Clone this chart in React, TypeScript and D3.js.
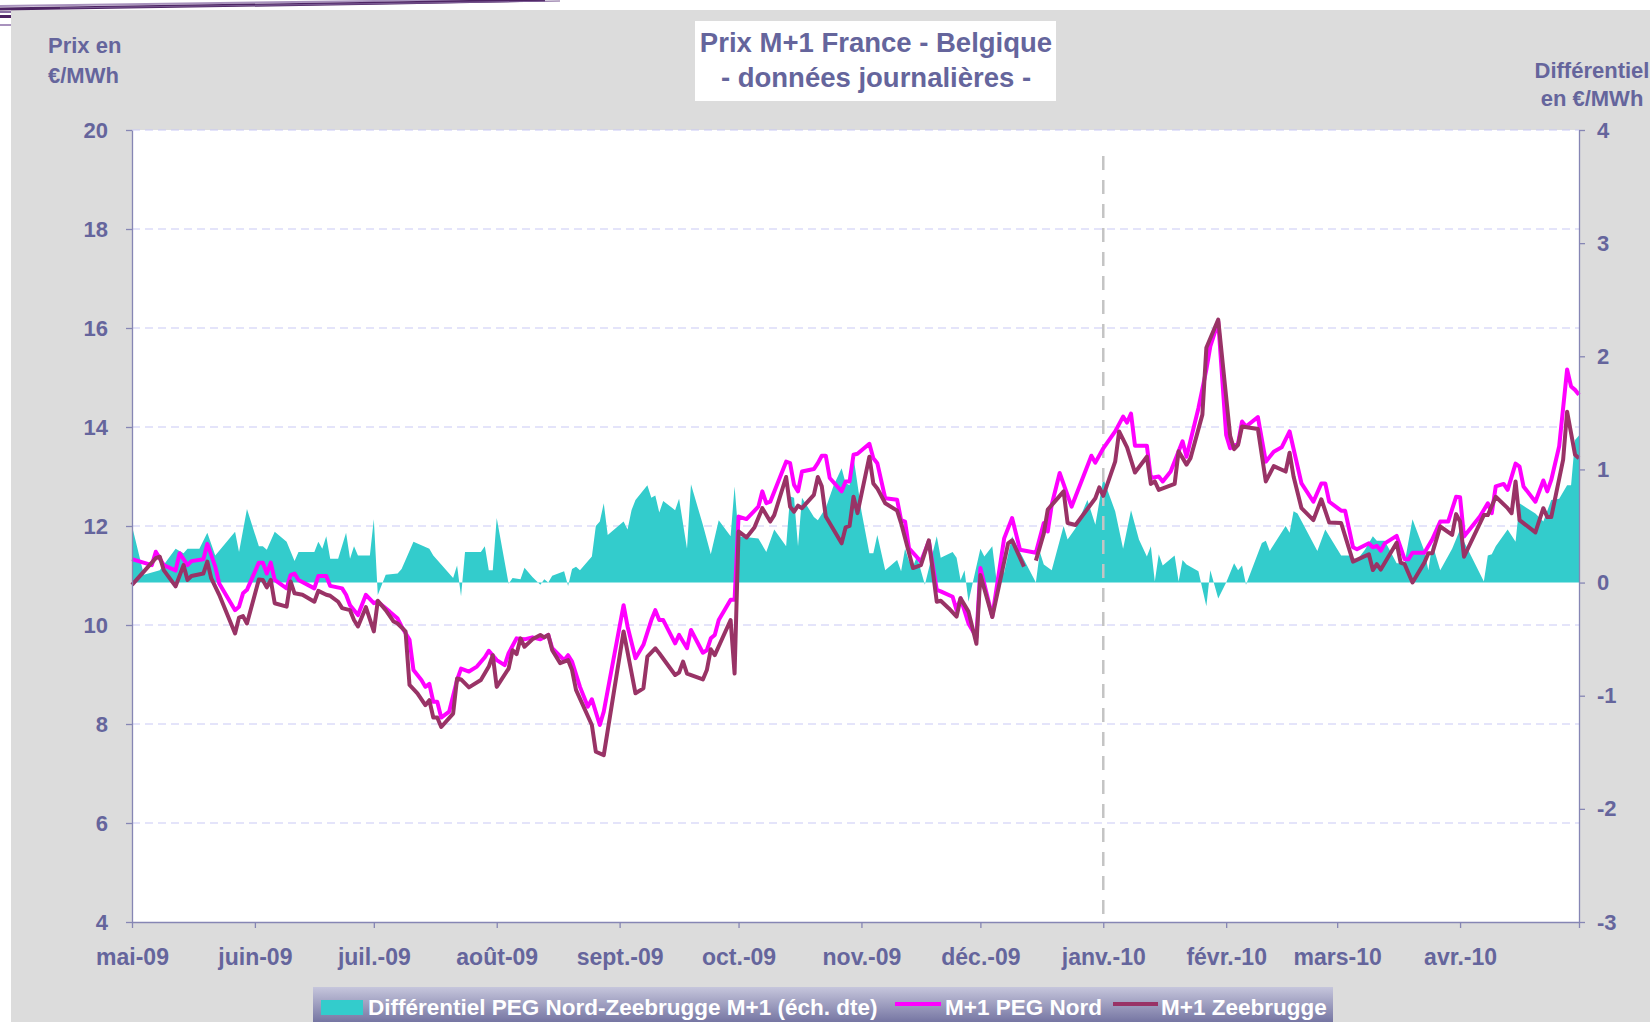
import React, { useEffect, useRef } from "react";
import * as d3 from "d3";

const START = new Date(2009, 4, 1);
const END = new Date(2010, 4, 1);

const monthLabels = [
  "mai-09", "juin-09", "juil.-09", "août-09", "sept.-09", "oct.-09",
  "nov.-09", "déc.-09", "janv.-10", "févr.-10", "mars-10", "avr.-10",
];
const leftTicks = [4, 6, 8, 10, 12, 14, 16, 18, 20];
const rightTicks = [-3, -2, -1, 0, 1, 2, 3, 4];

// [jours depuis le 1er mai 2009, €/MWh]
const pegNord: [number, number][] = [
  [0, 11.33], [5, 11.21], [6, 11.48], [8, 11.21], [11, 11.1], [12, 11.45], [14, 11.21], [15, 11.29],
  [18, 11.33], [19, 11.64], [21, 11.18], [22, 10.84], [26, 10.3], [27, 10.37], [28, 10.64], [29, 10.71],
  [32, 11.26], [33, 11.26], [34, 11.04], [35, 11.26], [36, 10.91], [39, 10.74], [40, 11.01], [41, 11.04],
  [42, 10.91], [46, 10.74], [47, 10.99], [49, 10.99], [50, 10.79], [53, 10.74], [54, 10.61], [55, 10.4],
  [57, 10.2], [59, 10.61], [61, 10.44], [62, 10.47], [65, 10.27], [67, 10.13], [68, 9.97], [70, 9.7],
  [71, 9.09], [73, 8.89], [74, 8.75], [75, 8.81], [76, 8.45], [77, 8.45], [78, 8.13], [80, 8.25],
  [82, 8.89], [83, 9.12], [85, 9.06], [87, 9.16], [89, 9.35], [90, 9.48], [92, 9.29], [94, 9.19],
  [95, 9.43], [97, 9.73], [99, 9.71], [101, 9.75], [103, 9.71], [105, 9.8], [106, 9.53], [109, 9.29],
  [110, 9.39], [111, 9.26], [113, 8.75], [115, 8.35], [116, 8.5], [118, 7.98], [119, 8.25], [124, 10.4],
  [125, 9.97], [127, 9.33], [129, 9.6], [131, 10.1], [132, 10.3], [133, 10.1], [134, 10.1], [137, 9.63],
  [138, 9.8], [140, 9.53], [141, 9.9], [144, 9.44], [145, 9.49], [146, 9.73], [147, 9.8], [148, 10.1],
  [151, 10.51], [152, 10.51], [153, 12.19], [155, 12.14], [158, 12.39], [159, 12.7], [160, 12.46], [161, 12.49],
  [165, 13.3], [166, 13.27], [167, 12.83], [168, 12.7], [169, 13.1], [172, 13.15], [173, 13.27], [174, 13.42],
  [175, 13.42], [176, 12.97], [179, 12.7], [180, 12.9], [181, 12.9], [182, 13.44], [183, 13.46], [186, 13.66],
  [187, 13.37], [188, 13.27], [190, 12.56], [193, 12.53], [194, 12.12], [195, 12.09], [196, 11.55], [199, 11.28],
  [201, 11.69], [203, 10.71], [204, 10.68], [207, 10.57], [208, 10.3], [209, 10.54], [211, 10.03], [213, 9.75],
  [214, 11.15], [217, 10.17], [220, 11.75], [222, 12.16], [224, 11.52], [228, 11.46], [230, 12.06], [231, 11.89],
  [232, 12.43], [234, 13.07], [237, 12.39], [242, 13.42], [243, 13.28], [245, 13.57], [248, 13.91], [250, 14.21],
  [251, 14.09], [252, 14.27], [253, 13.62], [256, 13.62], [257, 12.97], [259, 13.0], [260, 12.9], [262, 13.1],
  [265, 13.71], [266, 13.4], [269, 14.38], [271, 15.16], [272, 15.63], [274, 16.13], [276, 13.84], [277, 13.57],
  [279, 13.67], [280, 14.11], [281, 14.01], [284, 14.2], [286, 13.3], [288, 13.5], [290, 13.59], [292, 13.91],
  [295, 12.86], [298, 12.49], [300, 12.86], [301, 12.86], [302, 12.49], [305, 12.31], [306, 12.31], [308, 11.57],
  [309, 11.53], [312, 11.65], [313, 11.57], [314, 11.6], [315, 11.5], [316, 11.65], [319, 11.8], [321, 11.33],
  [322, 11.33], [323, 11.46], [326, 11.46], [328, 11.73], [330, 12.09], [332, 12.09], [334, 12.59], [335, 12.58],
  [336, 11.79], [340, 12.19], [342, 12.46], [343, 12.26], [344, 12.8], [346, 12.85], [347, 12.73], [349, 13.26],
  [350, 13.2], [351, 12.8], [354, 12.49], [356, 12.92], [357, 12.7], [358, 12.93], [360, 13.61], [362, 15.16],
  [363, 14.82], [364, 14.75], [365, 14.65],
];

const zeebrugge: [number, number | null][] = [
  [0, 10.81], [6, 11.35], [7, 11.38], [8, 11.11], [11, 10.78], [13, 11.21], [14, 10.91], [15, 10.99],
  [18, 11.04], [19, 11.28], [20, 10.94], [22, 10.61], [26, 9.83], [27, 10.15], [28, 10.18], [29, 10.03],
  [32, 10.92], [33, 10.91], [34, 10.76], [35, 10.91], [36, 10.44], [39, 10.37], [40, 10.88], [41, 10.64],
  [43, 10.61], [46, 10.47], [47, 10.69], [49, 10.61], [50, 10.59], [52, 10.47], [53, 10.34], [55, 10.3],
  [56, 10.1], [57, 9.97], [59, 10.36], [61, 9.87], [62, 10.49], [64, 10.3], [66, 10.07], [67, 10.03],
  [69, 9.87], [70, 8.79], [72, 8.62], [74, 8.38], [75, 8.48], [76, 8.13], [77, 8.13], [78, 7.94],
  [81, 8.21], [82, 8.92], [83, 8.9], [85, 8.74], [88, 8.89], [90, 9.16], [91, 9.39], [92, 8.75],
  [95, 9.12], [96, 9.49], [97, 9.41], [98, 9.73], [99, 9.56], [101, 9.71], [103, 9.8], [104, 9.75],
  [105, 9.8], [106, 9.49], [108, 9.23], [110, 9.29], [111, 9.09], [112, 8.69], [116, 7.98], [117, 7.44],
  [119, 7.37], [124, 9.87], [127, 8.62], [129, 8.72], [130, 9.36], [132, 9.53], [133, 9.43], [137, 8.99],
  [138, 9.04], [139, 9.26], [140, 9.02], [144, 8.9], [145, 9.09], [146, 9.51], [147, 9.39], [151, 10.1],
  [152, 9.02], [153, 11.89], [155, 11.77], [157, 11.97], [159, 12.36], [161, 12.09], [162, 12.22], [165, 12.99],
  [166, 12.39], [167, 12.29], [168, 12.41], [169, 12.36], [172, 12.63], [173, 12.99], [174, 12.8], [175, 12.19],
  [179, 11.65], [180, 11.97], [181, 12.0], [182, 12.59], [183, 12.26], [186, 13.4], [187, 12.86], [188, 12.76],
  [190, 12.46], [193, 12.31], [194, 12.06], [197, 11.15], [199, 11.21], [201, 11.71], [203, 10.47], [204, 10.49],
  [206, 10.34], [208, 10.17], [209, 10.54], [211, 10.27], [213, 9.62], [214, 11.01], [217, 10.16], [221, 11.65],
  [222, 11.71], [225, 11.18], [227, null], [228, 11.3], [230, 11.85], [231, 12.33], [235, 12.7], [236, 12.06],
  [238, 12.02], [243, 12.56], [244, 12.78], [245, 12.61], [248, 13.3], [249, 13.91], [251, 13.59], [253, 13.08],
  [256, 13.4], [257, 12.85], [258, 12.9], [259, 12.73], [263, 12.85], [264, 13.51], [266, 13.24], [267, 13.37],
  [270, 14.25], [271, 15.6], [274, 16.17], [277, 13.82], [278, 13.55], [279, 13.64], [280, 14.01], [284, 13.96],
  [286, 12.9], [288, 13.21], [291, 13.1], [292, 13.48], [293, 13.0], [295, 12.36], [298, 12.12], [300, 12.54],
  [302, 12.07], [305, 12.06], [308, 11.28], [312, 11.43], [313, 11.11], [314, 11.23], [315, 11.12], [319, 11.66],
  [320, 11.26], [321, 11.23], [323, 10.86], [326, 11.26], [327, 11.45], [328, 11.45], [330, 11.99], [333, 11.82],
  [334, 12.24], [335, 12.09], [336, 11.38], [341, 12.22], [342, 12.22], [344, 12.59], [347, 12.36], [348, 12.26],
  [349, 12.9], [350, 12.12], [354, 11.87], [356, 12.36], [357, 12.18], [358, 12.18], [361, 13.34], [362, 14.31],
  [364, 13.44], [365, 13.37],
];

// différentiel PEG Nord - Zeebrugge, échelle de droite
const differentiel: [number, number][] = [
  [0, 0.5], [3, 0.07], [7, 0.11], [11, 0.3], [13, 0.26], [14, 0.3], [17, 0.3], [19, 0.44],
  [21, 0.24], [26, 0.45], [27, 0.27], [29, 0.65], [32, 0.32], [33, 0.32], [34, 0.29], [36, 0.45],
  [39, 0.36], [41, 0.19], [42, 0.27], [46, 0.27], [47, 0.36], [48, 0.3], [49, 0.41], [50, 0.21],
  [52, 0.21], [54, 0.44], [55, 0.21], [56, 0.32], [57, 0.24], [60, 0.24], [61, 0.56], [62, -0.11],
  [64, 0.07], [67, 0.08], [68, 0.12], [69, 0.2], [71, 0.36], [75, 0.3], [76, 0.24], [81, 0.04],
  [82, 0.15], [83, -0.12], [84, 0.27], [88, 0.27], [89, 0.32], [90, 0.11], [91, 0.11], [92, 0.57],
  [95, -0.01], [96, 0.04], [98, 0.03], [99, 0.13], [101, 0.05], [103, -0.02], [104, 0.03], [105, 0.0],
  [106, 0.06], [109, 0.1], [110, -0.03], [111, 0.12], [112, 0.14], [113, 0.11], [116, 0.23], [117, 0.5],
  [118, 0.54], [119, 0.7], [120, 0.42], [124, 0.54], [125, 0.47], [126, 0.64], [127, 0.73], [130, 0.86],
  [131, 0.75], [132, 0.77], [133, 0.62], [134, 0.72], [137, 0.64], [138, 0.74], [140, 0.3], [141, 0.87],
  [144, 0.51], [146, 0.25], [148, 0.55], [151, 0.41], [152, 0.85], [153, 0.41], [158, 0.39], [160, 0.27],
  [162, 0.47], [165, 0.32], [166, 0.76], [167, 0.75], [168, 0.32], [169, 0.75], [172, 0.58], [173, 0.55],
  [175, 0.66], [177, 0.86], [179, 1.01], [180, 0.88], [181, 0.86], [182, 1.11], [184, 0.63], [186, 0.26],
  [187, 0.26], [188, 0.42], [190, 0.11], [193, 0.2], [194, 0.1], [195, 0.3], [196, 0.19], [197, 0.14],
  [198, 0.23], [200, -0.02], [203, 0.41], [204, 0.22], [207, 0.27], [208, 0.22], [209, 0.02], [210, 0.11],
  [211, -0.17], [214, 0.3], [215, 0.23], [217, 0.32], [218, 0.04], [220, 0.09], [222, 0.41], [224, 0.27],
  [228, 0.0], [229, 0.27], [230, 0.16], [232, 0.11], [235, 0.5], [236, 0.38], [238, 0.48], [241, 0.73],
  [243, 0.51], [245, 0.92], [248, 0.63], [250, 0.3], [252, 0.64], [254, 0.38], [256, 0.23], [257, 0.32],
  [258, 0.01], [259, 0.25], [260, 0.15], [263, 0.24], [264, 0.01], [265, 0.2], [266, 0.16], [269, 0.1],
  [271, -0.21], [272, 0.11], [274, -0.14], [276, 0.0], [278, 0.17], [279, 0.11], [280, 0.15], [281, -0.02],
  [285, 0.35], [286, 0.37], [287, 0.28], [291, 0.5], [292, 0.44], [293, 0.63], [294, 0.61], [299, 0.28],
  [301, 0.47], [305, 0.24], [307, 0.24], [309, 0.2], [311, 0.29], [313, 0.41], [314, 0.37], [316, 0.37],
  [319, 0.17], [321, 0.17], [323, 0.56], [326, 0.28], [327, 0.11], [328, 0.34], [330, 0.11], [333, 0.3],
  [335, 0.47], [336, 0.36], [341, 0.01], [342, 0.24], [343, 0.25], [344, 0.32], [347, 0.47], [349, 0.36],
  [350, 0.7], [354, 0.61], [356, 0.54], [358, 0.73], [360, 0.74], [362, 0.86], [363, 0.86], [364, 1.26],
  [365, 1.3],
];

const FONT = "'Liberation Sans', Arial, Helvetica, sans-serif";
const TEXT = "#65659c";
const AXIS = "#8686b4";

const App = () => {
  const chartRef = useRef<SVGSVGElement | null>(null);

  useEffect(() => {
    if (!chartRef.current) return;
    const svg = d3.select(chartRef.current);
    svg.selectAll("*").remove();

    const width = 1650;
    const height = 1022;
    const margin = { top: 130, right: 71, bottom: 100, left: 132 };
    const plotBottom = height - margin.bottom;
    const plotRight = width - margin.right;

    const day = (d: number) => d3.timeDay.offset(START, d);

    const x = d3.scaleTime().domain([START, END]).range([margin.left, plotRight]);
    const y = d3.scaleLinear().domain([4, 20]).range([plotBottom, margin.top]);
    const yR = d3.scaleLinear().domain([-3, 4]).range([plotBottom, margin.top]);

    // fond gris + bandeau décoratif
    svg.append("rect").attr("width", width).attr("height", height).attr("fill", "#fff");
    svg.append("rect").attr("x", 11).attr("y", 10).attr("width", width - 11).attr("height", height - 10).attr("fill", "#dcdcdc");
    const deco = svg.append("g").attr("fill", "none");
    deco.append("path").attr("d", "M0,6 C180,4 380,2 600,-2").attr("stroke", "#a892bd").attr("stroke-width", 2);
    deco.append("path").attr("d", "M0,9 C160,7 360,4 545,0").attr("stroke", "#4d2463").attr("stroke-width", 3);
    deco.append("path").attr("d", "M60,8 C240,6 420,3 560,1").attr("stroke", "#7a5a93").attr("stroke-width", 1.2);
    deco.append("rect").attr("x", 0).attr("y", 11).attr("width", 11).attr("height", 2).attr("fill", "#8a6fa3");
    deco.append("rect").attr("x", 0).attr("y", 15).attr("width", 11).attr("height", 3).attr("fill", "#4d2463");
    deco.append("rect").attr("x", 0).attr("y", 24).attr("width", 11).attr("height", 2).attr("fill", "#a892bd");

    // zone de tracé
    svg.append("rect")
      .attr("x", margin.left).attr("y", margin.top)
      .attr("width", plotRight - margin.left).attr("height", plotBottom - margin.top)
      .attr("fill", "#fff");

    // grille
    svg.append("g")
      .selectAll("line")
      .data(leftTicks.filter((t) => t !== 4))
      .join("line")
      .attr("x1", margin.left).attr("x2", plotRight)
      .attr("y1", (d) => y(d)).attr("y2", (d) => y(d))
      .attr("stroke", "#c9c9f5").attr("stroke-width", 1).attr("stroke-dasharray", "8,5");

    // différentiel (aire)
    const area = d3.area<[number, number]>()
      .x((d) => x(day(d[0])))
      .y0(yR(0))
      .y1((d) => yR(d[1]));
    svg.append("path").datum(differentiel).attr("d", area).attr("fill", "#33cccc");

    // repère janvier
    svg.append("line")
      .attr("x1", x(new Date(2010, 0, 1))).attr("x2", x(new Date(2010, 0, 1)))
      .attr("y1", 156).attr("y2", plotBottom)
      .attr("stroke", "#c4c4c4").attr("stroke-width", 2.5).attr("stroke-dasharray", "14,10");

    const line = d3.line<[number, number | null]>()
      .defined((d) => d[1] != null)
      .x((d) => x(day(d[0])))
      .y((d) => y(d[1] as number));

    svg.append("path").datum(pegNord).attr("d", line as any)
      .attr("fill", "none").attr("stroke", "#ff00ff").attr("stroke-width", 4).attr("stroke-linejoin", "round");
    svg.append("path").datum(zeebrugge).attr("d", line)
      .attr("fill", "none").attr("stroke", "#993366").attr("stroke-width", 4).attr("stroke-linejoin", "round");

    // axes
    const styleAxis = (g: d3.Selection<SVGGElement, unknown, null, undefined>) => {
      g.select(".domain").attr("stroke", AXIS).attr("stroke-width", 1.3);
      g.selectAll(".tick line").attr("stroke", AXIS).attr("stroke-width", 1.3);
      g.selectAll(".tick text")
        .attr("fill", TEXT).attr("font-family", FONT).attr("font-weight", "bold").attr("font-size", 22);
    };

    svg.append("g")
      .attr("transform", `translate(${margin.left},0)`)
      .call(d3.axisLeft(y).tickValues(leftTicks).tickFormat((d) => String(d)).tickSize(6).tickSizeOuter(0).tickPadding(18))
      .call(styleAxis);

    svg.append("g")
      .attr("transform", `translate(${plotRight},0)`)
      .call(d3.axisRight(yR).tickValues(rightTicks).tickFormat((d) => String(d)).tickSize(6).tickSizeOuter(0).tickPadding(12))
      .call(styleAxis);

    const months = d3.timeMonth.range(START, d3.timeDay.offset(END, 1));
    svg.append("g")
      .attr("transform", `translate(0,${plotBottom})`)
      .call(
        d3.axisBottom(x)
          .tickValues(months)
          .tickSize(6)
          .tickSizeOuter(0)
          .tickFormat((d, i) => monthLabels[i] ?? "")
      )
      .call(styleAxis)
      .call((g) => g.selectAll(".tick text").attr("dy", null).attr("y", 43).attr("font-size", 23));

    // titres
    svg.append("rect").attr("x", 695).attr("y", 21).attr("width", 361).attr("height", 80).attr("fill", "#fff");
    const title = svg.append("text")
      .attr("x", 876).attr("text-anchor", "middle")
      .attr("fill", TEXT).attr("font-family", FONT).attr("font-weight", "bold").attr("font-size", 27.5);
    title.append("tspan").attr("x", 876).attr("y", 52).text("Prix M+1 France - Belgique");
    title.append("tspan").attr("x", 876).attr("y", 87).text("- données journalières -");

    const yLab = svg.append("text")
      .attr("fill", TEXT).attr("font-family", FONT).attr("font-weight", "bold").attr("font-size", 22);
    yLab.append("tspan").attr("x", 48).attr("y", 53).text("Prix en");
    yLab.append("tspan").attr("x", 48).attr("y", 83).text("€/MWh");

    const rLab = svg.append("text")
      .attr("text-anchor", "middle")
      .attr("fill", TEXT).attr("font-family", FONT).attr("font-weight", "bold").attr("font-size", 22);
    rLab.append("tspan").attr("x", 1592).attr("y", 78).text("Différentiel");
    rLab.append("tspan").attr("x", 1592).attr("y", 106).text("en €/MWh");

    // légende
    const defs = svg.append("defs");
    const grad = defs.append("linearGradient").attr("id", "legGrad").attr("x1", 0).attr("y1", 0).attr("x2", 0).attr("y2", 1);
    grad.append("stop").attr("offset", "0%").attr("stop-color", "#c6c6dc");
    grad.append("stop").attr("offset", "100%").attr("stop-color", "#6a6a9a");
    svg.append("rect").attr("x", 313).attr("y", 987).attr("width", 1020).attr("height", 40).attr("fill", "url(#legGrad)");

    const leg = svg.append("g").attr("font-family", FONT).attr("font-weight", "bold").attr("font-size", 22.5).attr("fill", "#fff");
    leg.append("rect").attr("x", 321).attr("y", 1000).attr("width", 42).attr("height", 15).attr("fill", "#33cccc");
    leg.append("text").attr("x", 368).attr("y", 1015).text("Différentiel PEG Nord-Zeebrugge M+1 (éch. dte)");
    leg.append("line").attr("x1", 895).attr("x2", 941).attr("y1", 1004).attr("y2", 1004).attr("stroke", "#ff00ff").attr("stroke-width", 4);
    leg.append("text").attr("x", 945).attr("y", 1015).text("M+1 PEG Nord");
    leg.append("line").attr("x1", 1113).attr("x2", 1158).attr("y1", 1004).attr("y2", 1004).attr("stroke", "#993366").attr("stroke-width", 4);
    leg.append("text").attr("x", 1161).attr("y", 1015).text("M+1 Zeebrugge");
  }, []);

  return (
    <div style={{ position: "absolute", left: 0, top: 0 }}>
      <svg ref={chartRef} width={1650} height={1022} style={{ display: "block" }}></svg>
    </div>
  );
};

export default App;
